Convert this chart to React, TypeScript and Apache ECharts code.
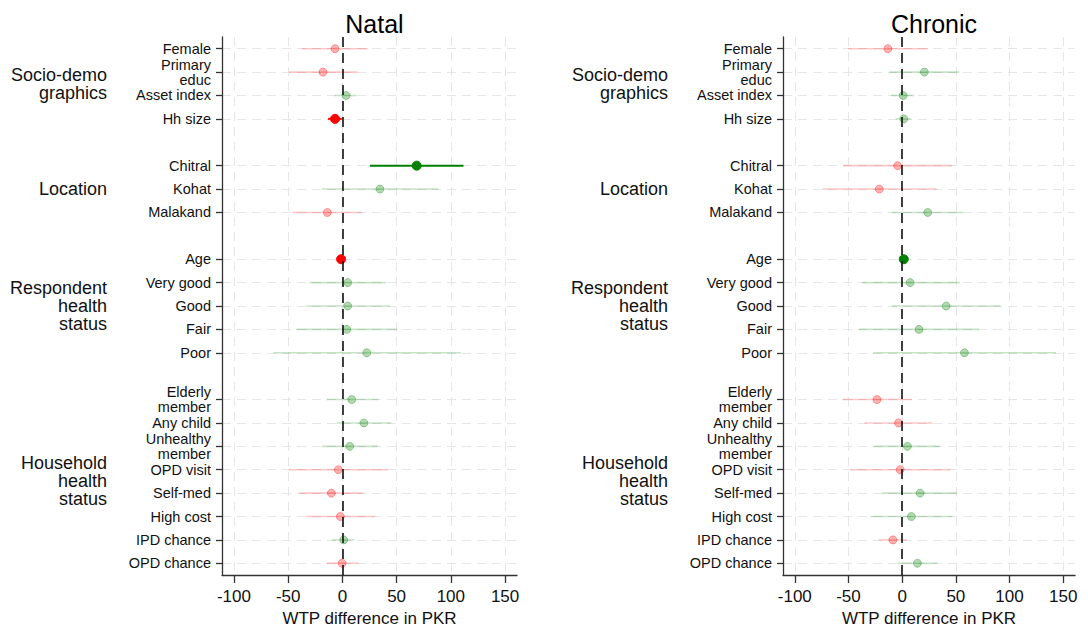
import React, { useEffect, useRef } from "react";
import * as echarts from "echarts";

const rowLabels: string[] = [
  "Female", "Primary\neduc", "Asset index", "Hh size", "",
  "Chitral", "Kohat", "Malakand", "",
  "Age", "Very good", "Good", "Fair", "Poor", "",
  "Elderly\nmember", "Any child", "Unhealthy\nmember", "OPD visit", "Self-med", "High cost", "IPD chance", "OPD chance",
];
const groupLabels: string[] = ["Socio-demo\ngraphics", "Location", "Respondent\nhealth\nstatus", "Household\nhealth\nstatus"];
const groupFirstRow: number[] = [0, 5, 9, 15];
const groupLastRow: number[] = [3, 7, 13, 22];
const xTickValues: number[] = [-100, -50, 0, 50, 100, 150];
const panelTitles: string[] = ["Natal", "Chronic"];
const xAxisTitle = "WTP difference in PKR";

const natalEst: number[] = [-6.8, -17.9, 3.4, -6.8, 68.5, 34.6, -13.9, -1.2, 4.9, 4.9, 4.0, 22.5, 8.6, 19.8, 6.8, -3.7, -10.2, -1.9, 1.2, -0.3];
const natalLo: number[] = [-37.3, -49.4, -7.1, -13.2, 25.3, -18.8, -46.3, -2.0, -30.2, -33.3, -42.6, -63.6, -14.8, -5.6, -18.8, -49.4, -39.8, -33.3, -9.6, -14.8];
const natalHi: number[] = [23.4, 13.6, 13.0, -0.5, 111.7, 88.6, 18.2, -0.4, 40.4, 43.8, 50.6, 109.3, 33.0, 45.1, 32.7, 42.0, 19.1, 30.0, 11.1, 15.1];

const chronicEst: number[] = [-13.3, 20.7, 0.9, 1.5, -4.3, -21.3, 23.8, 1.5, 7.4, 41.0, 15.7, 58.0, -23.5, -3.4, 4.9, -1.9, 16.7, 8.6, -8.6, 14.2];
const chronicLo: number[] = [-50.6, -11.7, -10.2, -6.2, -54.9, -74.1, -9.6, 0.7, -37.3, -9.6, -40.4, -27.2, -55.6, -35.2, -26.5, -48.1, -18.8, -29.6, -21.9, -4.3];
const chronicHi: number[] = [24.1, 53.1, 11.1, 8.3, 46.6, 32.1, 56.8, 2.3, 53.7, 91.7, 71.6, 143.2, 9.0, 28.4, 35.2, 45.1, 51.2, 46.9, 4.3, 32.7];

const FONT = "Liberation Sans, Arial, sans-serif";

const labeledRows: number[] = rowLabels.map((l, i) => (l ? i : -1)).filter((i) => i >= 0);
const groupCenters: number[] = groupFirstRow.map((f, i) => (f + groupLastRow[i]) / 2);

function colorsFor(est: number, lo: number, hi: number) {
  const sig = lo > 0 || hi < 0;
  const pos = est > 0;
  const rgb = pos ? "0,128,0" : "255,0,0";
  if (sig) {
    const c = pos ? "#008000" : "#ff0000";
    return { point: c, border: c, line: c, lineWidth: 2, size: 9 };
  }
  return {
    point: `rgba(${rgb},0.3)`,
    border: `rgba(${rgb},0.32)`,
    line: `rgba(${rgb},0.22)`,
    lineWidth: 1.6,
    size: 8,
  };
}

export default function App() {
  const ref = useRef<HTMLDivElement>(null);
  useEffect(() => {
    if (!ref.current) return;
    const chart = echarts.init(ref.current, null, { renderer: "svg" });
    const panels = [
      { est: natalEst, lo: natalLo, hi: natalHi },
      { est: chronicEst, lo: chronicLo, hi: chronicHi },
    ];
    const grids = [
      { left: 222, right: 571, top: 37, bottom: 57 },
      { left: 783, right: 13, top: 37, bottom: 57 },
    ];
    const xAxes: any[] = [];
    const yAxes: any[] = [];
    const series: any[] = [];
    const titles: any[] = [];
    panels.forEach((p, g) => {
      const gr = grids[g];
      const cx = gr.left + (1088 - gr.left - gr.right) / 2;
      titles.push({
        text: panelTitles[g],
        left: cx,
        top: 6,
        textAlign: "center",
        textStyle: { fontFamily: FONT, fontSize: 25, fontWeight: "normal", color: "#000" },
      });
      xAxes.push({
        type: "value",
        gridIndex: g,
        min: -111,
        max: 161,
        name: xAxisTitle,
        nameLocation: "middle",
        nameGap: 35,
        nameTextStyle: { fontFamily: FONT, fontSize: 17, color: "#111" },
        axisLine: { show: true, onZero: false, lineStyle: { color: "#333", width: 1.3 } },
        axisTick: { show: true, length: 8, customValues: xTickValues, lineStyle: { color: "#333", width: 1.3 } },
        axisLabel: {
          customValues: xTickValues,
          fontFamily: FONT,
          fontSize: 17,
          color: "#111",
          margin: 13,
        },
        splitLine: { show: true, lineStyle: { color: "#e6e6e6", type: [9, 6], width: 1 } },
      });
      yAxes.push({
        type: "value",
        gridIndex: g,
        inverse: true,
        min: -0.5,
        max: 22.5,
        axisLine: { show: true, onZero: false, lineStyle: { color: "#333", width: 1.3 } },
        axisTick: { show: true, length: 6, customValues: labeledRows, lineStyle: { color: "#333", width: 1.3 } },
        axisLabel: {
          customValues: labeledRows,
          formatter: (v: number) => rowLabels[Math.round(v)] || "",
          fontFamily: FONT,
          fontSize: 14.5,
          lineHeight: 15,
          color: "#111",
          margin: 11,
        },
        splitLine: { show: true, lineStyle: { color: "#e6e6e6", type: [9, 6], width: 1 } },
      });
      yAxes.push({
        type: "value",
        gridIndex: g,
        inverse: true,
        min: -0.5,
        max: 22.5,
        position: "left",
        axisLine: { show: false },
        axisTick: { show: false },
        splitLine: { show: false },
        axisLabel: {
          customValues: groupCenters,
          formatter: (v: number) => {
            const idx = groupCenters.findIndex((c) => Math.abs(c - v) < 1e-6);
            return idx >= 0 ? groupLabels[idx] : "";
          },
          fontFamily: FONT,
          fontSize: 18,
          lineHeight: 18,
          color: "#111",
          margin: 115,
          align: "right",
        },
      });
      const yIdx = g * 2;
      // zero reference line
      series.push({
        type: "line",
        xAxisIndex: g,
        yAxisIndex: yIdx,
        data: [],
        silent: true,
        z: 1,
        markLine: {
          silent: true,
          symbol: ["none", "none"],
          label: { show: false },
          lineStyle: { color: "#111", type: [10, 6], width: 1.6 },
          data: [{ xAxis: 0 }],
        },
      });
      // confidence intervals
      series.push({
        type: "custom",
        xAxisIndex: g,
        yAxisIndex: yIdx,
        z: 2,
        silent: true,
        encode: { x: [0, 2], y: 1 },
        data: labeledRows.map((r, i) => [p.lo[i], r, p.hi[i]]),
        renderItem: (params: any, api: any) => {
          const i = params.dataIndex;
          const c = colorsFor(p.est[i], p.lo[i], p.hi[i]);
          const a = api.coord([api.value(0), api.value(1)]);
          const b = api.coord([api.value(2), api.value(1)]);
          return {
            type: "line",
            shape: { x1: a[0], y1: a[1], x2: b[0], y2: b[1] },
            style: { stroke: c.line, lineWidth: c.lineWidth },
          };
        },
      });
      // point estimates
      series.push({
        type: "scatter",
        xAxisIndex: g,
        yAxisIndex: yIdx,
        z: 3,
        silent: true,
        data: labeledRows.map((r, i) => {
          const c = colorsFor(p.est[i], p.lo[i], p.hi[i]);
          return {
            value: [p.est[i], r],
            symbolSize: c.size,
            itemStyle: { color: c.point, borderColor: c.border, borderWidth: 1, opacity: 1 },
          };
        }),
      });
    });
    chart.setOption({
      animation: false,
      backgroundColor: "#fff",
      title: titles,
      grid: grids,
      xAxis: xAxes,
      yAxis: yAxes,
      series,
    });
    return () => chart.dispose();
  }, []);
  return <div ref={ref} style={{ position: "fixed", left: 0, top: 0, width: 1088, height: 632 }} />;
}
